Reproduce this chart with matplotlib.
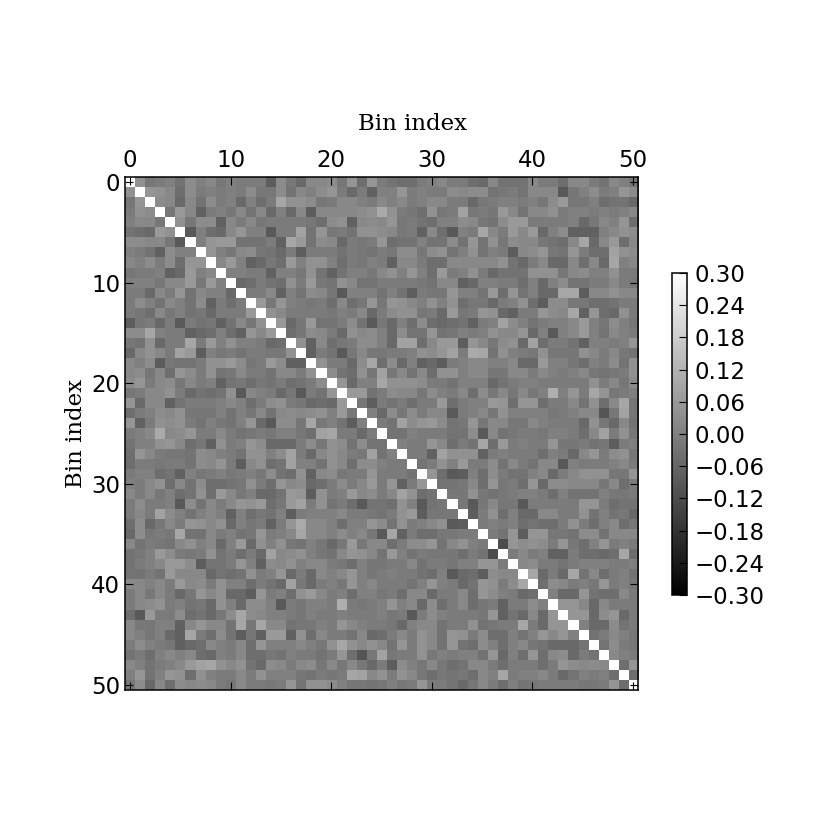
import numpy as np
import matplotlib
matplotlib.use("Agg")
import matplotlib.pyplot as plt

# Upper triangle of the symmetric matrix, estimated by eye from the grey level
# of each cell, in hundredths. Each row holds columns i+1 ... 50.
row_00 = [4,-2,-1,0,-3,3,0,2,-2,0,-1,-1,-1,-8,3,-2,-5,2,2,3,-2,5,-4,5,-1, -3,-4,-4,-1,0,2,-1,-1,-4,-5,2,-3,-3,-3,2,-1,-1,-4,2,2,-1,-3,2,0,-2]
row_01 = [5,4,2,-4,3,-1,0,-1,0,-1,3,-2,-2,3,-3,2,0,3,5,-1,-5,-1,-7,0, 0,5,-1,0,-1,-1,3,2,3,3,-3,-2,-1,-3,2,2,2,-9,-2,0,3,-1,0,5,3]
row_02 = [3,2,-5,2,-3,3,-1,0,-5,0,-4,-1,9,4,4,3,-2,-1,2,2,0,-1,2, 0,2,-1,0,2,2,-1,-1,-5,-2,-1,0,0,-1,0,-2,3,6,-2,-2,0,-4,-3,-3,-5]
row_03 = [-2,6,2,-7,-1,0,-2,2,-3,2,-5,0,-5,2,-8,2,2,2,2,3,4,10, 4,-1,-2,-4,4,-2,-1,8,-2,-1,-2,6,2,-3,2,2,4,-1,0,0,-1,0,-1,0,2]
row_04 = [4,-2,3,3,-7,2,-1,2,-2,-1,-1,-1,-1,-2,-4,3,4,-7,2,3,2, 5,-2,-1,-3,-4,0,0,3,2,-2,-3,3,6,6,-1,-1,-1,-1,0,-5,-2,2,0,5,-4]
row_05 = [-9,0,-4,-5,2,5,0,0,-9,-1,-1,8,-3,5,-2,-1,-3,4,4,3, 2,-2,-1,-7,2,-4,-9,0,-1,9,2,-1,6,2,6,-5,0,3,-7,-7,-7,0,2,4,3]
row_06 = [0,5,6,6,-3,-3,-3,-1,-7,9,6,-3,3,2,-5,-1,-2,-1,5, -4,-3,-3,0,-3,-3,3,-3,5,-3,4,-2,3,2,2,-2,-3,-4,2,9,-5,2,6,-4,2]
row_07 = [5,0,-2,2,3,-2,-3,-5,-1,-8,-1,-1,-1,-3,-1,-2,-3,-1, -2,3,3,-2,3,4,-3,0,4,-3,0,-1,-8,2,3,5,-2,-3,5,-1,-4,-4,8,4,3]
row_08 = [2,6,0,-7,-5,-2,-4,6,0,4,4,0,-4,-1,-2,0,-1, -7,2,2,-1,-4,-4,2,2,2,2,2,4,-3,-5,-1,2,-5,-5,2,-4,2,-5,9,0,2]
row_09 = [0,0,-1,-1,-7,0,0,-2,4,-3,-7,-3,0,0,-2,2, 4,0,5,0,-4,6,-1,0,4,-1,-5,-3,-3,-3,4,4,4,-2,2,3,0,0,4,-1,-1]
row_10 = [-5,-4,-1,-3,-4,4,-1,6,-2,-3,4,2,-3,-3,-1, -1,-1,-1,-2,-3,2,2,-7,-5,0,0,-1,-1,-4,0,-5,0,3,-3,-3,-1,-1,2,-1,-2]
row_11 = [-1,-1,2,-7,0,-3,3,2,-2,-9,0,0,0,-3, 0,-3,-8,-1,-2,-2,5,0,0,-3,6,-4,5,-3,0,-5,-5,9,9,-8,2,2,4,2,2]
row_12 = [6,-2,5,0,-1,-2,-1,-4,2,-4,-2,5,-2, 5,4,2,0,4,0,4,-4,-2,-2,-5,-1,0,4,-4,-8,3,3,-2,-2,-4,-4,-3,-1,-1]
row_13 = [4,2,-1,-1,-1,-1,-2,0,-1,2,-5,-1, 3,4,4,-2,-1,-5,6,-2,-1,5,4,-5,-7,-1,-1,5,3,2,9,-7,5,-4,-5,4,-1]
row_14 = [6,-5,-2,6,-3,-3,-1,3,-3,-9,-2, -5,0,-4,3,-4,-5,-4,-3,-7,-1,0,8,3,0,-3,-1,0,0,2,6,0,-2,3,0,-2]
row_15 = [-4,-2,3,2,-1,-5,4,2,3,0, -5,3,-3,-3,5,-3,-2,0,-1,0,4,2,2,5,-5,0,-9,0,2,6,0,-3,2,0,-1]
row_16 = [4,-7,2,-4,-2,-1,3,3,0, -5,8,8,-4,2,6,6,-8,5,2,-2,3,4,-5,8,-4,-1,-1,-3,-7,0,0,-1,0,5]
row_17 = [-7,-1,-3,-9,-2,2,-2,-2, -1,-1,0,4,3,5,8,-1,10,9,-3,4,0,-1,-2,4,-2,-2,-2,4,2,-1,2,-2,-3]
row_18 = [4,-1,-1,-5,3,9,-4, 3,-5,0,-7,-5,-8,-1,0,2,2,0,0,2,-5,-5,6,0,0,-2,-4,0,-1,3,-3,4]
row_19 = [3,-3,-4,4,-2,8, -2,2,-3,2,-4,4,4,0,2,2,-2,-2,2,2,-1,2,0,-1,0,2,-2,-3,-2,-1,4]
row_20 = [5,-5,0,0,9, 4,4,4,3,-1,-1,-3,0,0,0,-5,-3,-1,0,0,-1,-1,-1,-1,-1,4,-1,2,-2,3]
row_21 = [6,6,-3,-1, 3,2,2,-2,3,0,-1,2,-4,3,-2,2,-2,2,-2,0,11,0,5,-1,9,5,-2,-1,0]
row_22 = [-2,-8,-1, -3,-1,-4,-1,-1,6,-4,-1,0,0,6,5,-4,5,5,-4,-1,-1,2,-3,4,-4,2,9,-2]
row_23 = [0,-5, 3,-2,3,-1,2,2,-9,-1,0,2,-2,4,0,0,0,0,-2,-1,0,2,2,-10,-2,8,-2]
row_24 = [-1, -3,8,3,5,6,3,-3,-2,5,-2,2,2,-2,-2,2,0,-1,-1,-1,-5,4,-2,-5,2,-3]
row_25 = [-3,-3,0,-1,-1,-1,-3,-3,3,-9,2,-3,-2,-1,-1,-2,0,0,-1,-4,2,8,-1,4,-2]
row_26 = [0,-1,-1,5,2,-4,-1,-3,9,-4,6,-1,0,-1,-1,5,-2,-2,-1,-3,-2,-8,-1,0]
row_27 = [-1,-1,-7,8,4,4,4,-7,-1,0,-1,-1,-1,-4,0,-1,-5,2,5,-1,3,4,-2]
row_28 = [-3,-1,4,0,6,-1,-1,3,-3,2,-1,-3,2,2,-9,0,-1,-1,-1,0,2,-1]
row_29 = [5,-4,-9,-8,0,-4,3,-1,-3,-3,0,2,-5,-1,2,4,4,4,-2,-2,5]
row_30 = [-3,-3,-2,2,-4,5,-2,-1,-4,5,-5,3,3,2,2,2,-2,2,-4,-1]
row_31 = [-2,-2,4,-2,-3,-2,-1,0,0,-1,-4,0,-3,-3,-3,0,-2,-2,-1]
row_32 = [-2,-9,-2,2,-2,-2,-9,-1,-1,-1,-1,-1,5,5,-1,-4,-3,-3]
row_33 = [-8,-1,4,-4,0,-5,-5,2,2,-1,-1,4,-3,0,-3,-2,-5]
row_34 = [-1,0,-1,0,-4,-3,-4,-4,-1,4,-1,-4,0,2,-4,-2]
row_35 = [-1,-3,5,-8,5,5,-2,-2,-3,3,3,-3,2,2,2]
row_36 = [-12,5,3,4,3,-1,5,-2,-4,0,5,-1,0,-1]
row_37 = [-1,2,-1,0,-7,-7,-1,-4,-4,-5,-4,9,-4]
row_38 = [2,3,-1,-1,-3,-1,0,0,0,-1,-1,0]
row_39 = [9,-5,-1,-5,9,-3,2,-4,-1,0,-3]
row_40 = [-4,3,2,-1,0,-2,5,-1,0,-2]
row_41 = [0,-5,-5,5,-3,-4,-4,2,-1]
row_42 = [5,5,2,-5,2,-1,-1,-1]
row_43 = [5,5,-5,3,5,-5,-1]
row_44 = [0,-5,-5,3,-3,-1]
row_45 = [-3,-1,2,0,-2]
row_46 = [-3,3,-1,-2]
row_47 = [2,0,-1]
row_48 = [-4,5]
row_49 = [-4]
upper_rows = [row_00,row_01,row_02,row_03,row_04,row_05,row_06,row_07,row_08,row_09,
              row_10,row_11,row_12,row_13,row_14,row_15,row_16,row_17,row_18,row_19,
              row_20,row_21,row_22,row_23,row_24,row_25,row_26,row_27,row_28,row_29,
              row_30,row_31,row_32,row_33,row_34,row_35,row_36,row_37,row_38,row_39,
              row_40,row_41,row_42,row_43,row_44,row_45,row_46,row_47,row_48,row_49]
diagonal_value = 1.0
axis_ticks = [0, 10, 20, 30, 40, 50]
colorbar_ticks = [-0.30, -0.24, -0.18, -0.12, -0.06, 0.00, 0.06, 0.12, 0.18, 0.24, 0.30]
axis_label = "Bin index"

n = len(upper_rows) + 1
matrix = np.eye(n) * diagonal_value
for i, row in enumerate(upper_rows):
    assert len(row) == n - 1 - i, (i, len(row))
    matrix[i, i + 1:] = np.array(row) / 100.0
    matrix[i + 1:, i] = np.array(row) / 100.0

W = H = 830
fig = plt.figure(figsize=(8.3, 8.3), dpi=100)
ax = fig.add_axes([125 / W, 1 - 690 / H, 513 / W, 513 / H])
im = ax.imshow(matrix, cmap="gray", vmin=-0.3, vmax=0.3, interpolation="nearest", aspect="equal")
ax.set_xticks(axis_ticks)
ax.set_yticks(axis_ticks)
ax.tick_params(axis="both", which="major", direction="in", length=5.5, width=0.8,
               top=True, bottom=True, left=True, right=True,
               labeltop=True, labelbottom=False, labelsize=16.5, pad=3.5, color="black")
ax.xaxis.set_label_position("top")
ax.set_xlabel(axis_label, family="DejaVu Serif", fontsize=16.5, labelpad=14, x=0.56)
ax.set_ylabel(axis_label, family="DejaVu Serif", fontsize=16.5, labelpad=3)
for s in ax.spines.values():
    s.set_linewidth(1.1)

cax = fig.add_axes([672 / W, 1 - 595 / H, 15 / W, 322 / H])
cb = fig.colorbar(im, cax=cax, ticks=colorbar_ticks)
cb.ax.set_yticklabels([f"{t:.2f}".replace("-", "\u2212") for t in colorbar_ticks])
cb.ax.tick_params(direction="in", length=5.5, width=0.8, labelsize=16.5, pad=5.5, color="black")
cb.outline.set_linewidth(1.1)

fig.savefig("out.png", dpi=100)
